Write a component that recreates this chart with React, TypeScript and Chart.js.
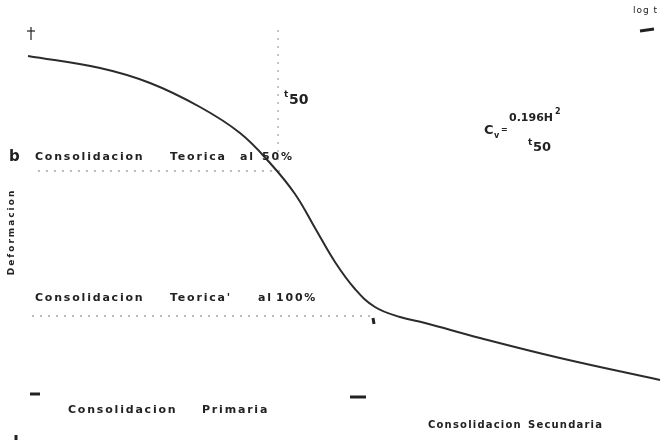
import React, { useEffect, useRef } from "react";
import { Chart, registerables } from "chart.js";

Chart.register(...registerables);

// log t (horizontal position) and deformation readings of the consolidation curve
const curveLogT = [28, 100, 150, 200, 240, 270, 295, 315, 335, 355, 375, 400, 425, 480, 560, 660];
const curveDef = [56, 68, 83, 107, 133, 163, 194, 228, 262, 289, 307, 317, 323, 338, 358, 380];

// reference lines
const line50LogT = [38, 282];
const line50Def = [171, 171];
const line100LogT = [32, 372];
const line100Def = [316, 316];
const t50LogT = [278, 278];
const t50Def = [30, 165];

// text annotations (word by word)
const wordText = [
  "Consolidacion", "Teorica", "al", "50%",
  "Consolidacion", "Teorica'", "al", "100%",
  "Consolidacion", "Primaria",
];
const wordLogT = [35, 170, 240, 262, 35, 170, 258, 276, 68, 202];
const wordDef = [157, 157, 157, 157, 298, 298, 298, 298, 410, 410];
const smallText = ["Consolidacion", "Secundaria"];
const smallLogT = [428, 528];
const smallDef = [425, 425];

const textPlugin = {
  id: "annotText",
  afterDatasetsDraw(chart: any) {
    const { ctx, scales } = chart;
    const x = scales.x;
    const y = scales.y;
    const px = (v: number) => x.getPixelForValue(v);
    const py = (v: number) => y.getPixelForValue(v);
    ctx.save();
    ctx.fillStyle = "#222";
    ctx.textBaseline = "middle";
    ctx.font = "bold 11px 'DejaVu Sans', sans-serif";
    (ctx as any).letterSpacing = "1.8px";
    wordText.forEach((t, i) => {
      ctx.fillText(t, px(wordLogT[i]), py(wordDef[i]));
    });
    ctx.font = "bold 10px 'DejaVu Sans', sans-serif";
    (ctx as any).letterSpacing = "1.2px";
    smallText.forEach((t, i) => {
      ctx.fillText(t, px(smallLogT[i]), py(smallDef[i]));
    });
    (ctx as any).letterSpacing = "0px";
    ctx.font = "bold 15px 'DejaVu Sans', sans-serif";
    ctx.fillText("b", px(9), py(157));
    ctx.font = "9px 'DejaVu Sans', sans-serif";
    (ctx as any).letterSpacing = "1px";
    ctx.fillText("log t", px(633), py(11));
    (ctx as any).letterSpacing = "0px";
    // t50 label
    ctx.font = "bold 9px 'DejaVu Sans', sans-serif";
    ctx.fillText("t", px(284), py(95));
    ctx.font = "bold 14px 'DejaVu Sans', sans-serif";
    ctx.fillText("50", px(289), py(100));
    // Cv formula
    ctx.font = "bold 13px 'DejaVu Sans', sans-serif";
    ctx.fillText("C", px(484), py(131));
    ctx.font = "bold 8px 'DejaVu Sans', sans-serif";
    ctx.fillText("v", px(494), py(136));
    ctx.fillText("=", px(501), py(130));
    ctx.font = "bold 11px 'DejaVu Sans', sans-serif";
    ctx.fillText("0.196H", px(509), py(118));
    ctx.font = "bold 8px 'DejaVu Sans', sans-serif";
    ctx.fillText("2", px(555), py(112));
    ctx.font = "bold 9px 'DejaVu Sans', sans-serif";
    ctx.fillText("t", px(528), py(143));
    ctx.font = "bold 13px 'DejaVu Sans', sans-serif";
    ctx.fillText("50", px(533), py(148));
    // y-axis title
    ctx.save();
    ctx.translate(px(12), py(232));
    ctx.rotate(-Math.PI / 2);
    ctx.textAlign = "center";
    ctx.font = "bold 9px 'DejaVu Sans', sans-serif";
    (ctx as any).letterSpacing = "2px";
    ctx.fillText("Deformacion", 0, 0);
    ctx.restore();
    // small markers (arrows and ticks)
    ctx.strokeStyle = "#222";
    ctx.lineWidth = 3;
    const seg = (a: number, b: number, c: number, d: number) => {
      ctx.beginPath();
      ctx.moveTo(px(a), py(b));
      ctx.lineTo(px(c), py(d));
      ctx.stroke();
    };
    seg(30, 394, 40, 394);
    seg(350, 397, 366, 397);
    seg(640, 31, 654, 29);
    seg(373, 318, 374, 324);
    seg(16, 435, 16, 440);
    ctx.lineWidth = 1.2;
    seg(31, 27, 31, 40);
    seg(27, 31, 35, 31);
    ctx.restore();
  },
};

export default function App() {
  const ref = useRef<HTMLCanvasElement | null>(null);
  useEffect(() => {
    if (!ref.current) return;
    const dotted = {
      borderColor: "#a8a8a8",
      borderWidth: 1.3,
      borderDash: [2, 6],
      pointRadius: 0,
      showLine: true,
      fill: false,
    };
    const chart = new Chart(ref.current, {
      type: "scatter",
      data: {
        datasets: [
          {
            data: curveLogT.map((v, i) => ({ x: v, y: curveDef[i] })),
            borderColor: "#2b2b2b",
            borderWidth: 2,
            pointRadius: 0,
            showLine: true,
            tension: 0.4,
            fill: false,
          },
          { ...dotted, data: line50LogT.map((v, i) => ({ x: v, y: line50Def[i] })) },
          { ...dotted, data: line100LogT.map((v, i) => ({ x: v, y: line100Def[i] })) },
          { ...dotted, data: t50LogT.map((v, i) => ({ x: v, y: t50Def[i] })) },
        ],
      },
      options: {
        animation: false,
        responsive: false,
        maintainAspectRatio: false,
        layout: { padding: 0 },
        plugins: { legend: { display: false }, tooltip: { enabled: false } },
        scales: {
          x: { type: "linear", min: 0, max: 665, display: false },
          y: { type: "linear", min: 0, max: 443, reverse: true, display: false },
        },
      },
      plugins: [textPlugin],
    } as any);
    return () => chart.destroy();
  }, []);
  return (
    <div style={{ position: "fixed", left: 0, top: 0, width: 665, height: 443, background: "#fff" }}>
      <canvas ref={ref} width={665} height={443} style={{ width: 665, height: 443 }} />
    </div>
  );
}
